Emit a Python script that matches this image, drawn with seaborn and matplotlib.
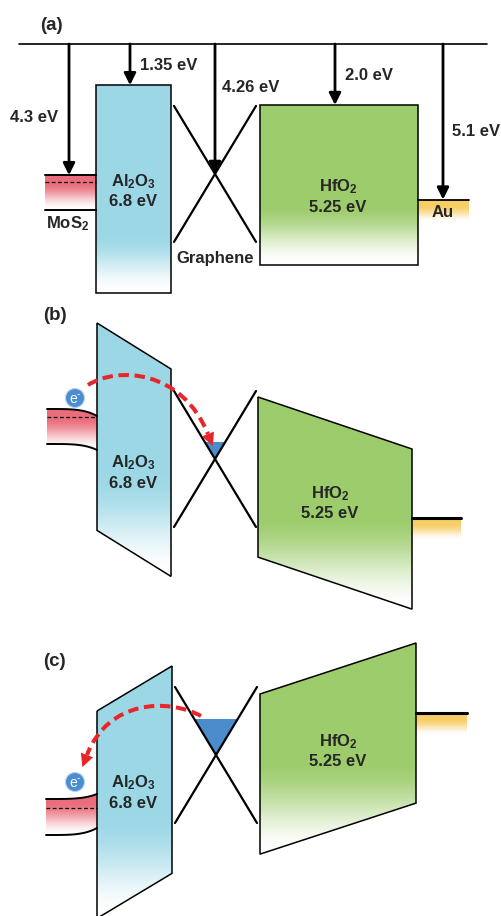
import numpy as np
import matplotlib
matplotlib.use("Agg")
import matplotlib.pyplot as plt
import seaborn as sns
import pandas as pd
from matplotlib.patches import Polygon, Circle, PathPatch
from matplotlib.path import Path

# ---- energy data (eV below vacuum level) ----
materials = ["MoS2", "Al2O3", "Graphene", "HfO2", "Au"]
offsets_ev = [4.3, 1.35, 4.26, 2.0, 5.1]          # electron affinity / work function
offset_labels = ["4.3 eV", "1.35 eV", "4.26 eV", "2.0 eV", "5.1 eV"]
oxide_names = [r"Al$_2$O$_3$", r"HfO$_2$"]
oxide_gaps_ev = [6.8, 5.25]
gap_labels = ["6.8 eV", "5.25 eV"]
material_labels = [r"MoS$_2$", "Graphene", "Au"]
panel_labels = ["(a)", "(b)", "(c)"]

# ---- style ----
sns.set_theme(style="white")
plt.rcParams["font.family"] = ["Liberation Sans", "DejaVu Sans"]
plt.rcParams["mathtext.fontset"] = "custom"
for k in ("rm", "it", "bf", "sf"):
    plt.rcParams["mathtext." + k] = "Liberation Sans:bold"

AL_C = (0.615, 0.847, 0.902)
HF_C = (0.612, 0.800, 0.420)
MO_C = (0.915, 0.430, 0.480)
AU_C = (0.970, 0.805, 0.400)
FERMI_C = "#4a8ccc"
RED = "#e8262a"

EV = 30.5        # drawing units per eV
VAC_Y = 44       # vacuum level in panel (a)
FS = 12

fig = plt.figure(figsize=(5.01, 9.16), dpi=100)
ax = fig.add_axes([0, 0, 1, 1])


def grad_fill(verts, color, fade_start, fade_end=1.0, z=1):
    verts = np.asarray(verts, float)
    x0, x1 = verts[:, 0].min(), verts[:, 0].max()
    y0, y1 = verts[:, 1].min(), verts[:, 1].max()
    t = np.linspace(0, 1, 300)
    w = np.clip((t - fade_start) / (fade_end - fade_start), 0, 1)
    w = w * w * (3 - 2 * w)
    rgb = (1 - w)[:, None] * np.array(color)[None, :] + w[:, None]
    im = ax.imshow(rgb[:, None, :], extent=(x0, x1, y1, y0), aspect="auto",
                   zorder=z, interpolation="bilinear")
    clip = Polygon(verts, closed=True, facecolor="none", edgecolor="none")
    ax.add_patch(clip)
    im.set_clip_path(clip)


def oxide(xl, xr, top_l, top_r, gap, color, fade, name, gap_lbl, lx, ly):
    h = gap * EV
    verts = [(xl, top_l), (xr, top_r), (xr, top_r + h), (xl, top_l + h)]
    grad_fill(verts, color, fade)
    ax.add_patch(Polygon(verts, closed=True, facecolor="none",
                         edgecolor="black", lw=1.1, zorder=3))
    ax.text(lx, ly, name, ha="center", va="center", fontsize=FS,
            fontweight="bold", zorder=5)
    ax.text(lx, ly + 20, gap_lbl, ha="center", va="center", fontsize=FS,
            fontweight="bold", zorder=5)


def graphene(cx, dirac_y, fermi_y=None):
    hw, hh = 41, 68
    df = pd.DataFrame({
        "x": [cx - hw, cx + hw, cx - hw, cx + hw],
        "y": [dirac_y - hh, dirac_y + hh, dirac_y + hh, dirac_y - hh],
        "branch": ["a", "a", "b", "b"],
    })
    sns.lineplot(data=df, x="x", y="y", units="branch", estimator=None,
                 color="black", lw=1.6, ax=ax, legend=False, zorder=4, sort=False)
    if fermi_y is not None:
        d = dirac_y - fermi_y
        half = hw * d / hh
        ax.add_patch(Polygon([(cx - half, fermi_y), (cx + half, fermi_y), (cx, dirac_y)],
                             closed=True, facecolor=FERMI_C, edgecolor="none", zorder=3))


def mos2(x0, x1, top, bot, bend_top, bend_bot, fermi):
    xs = np.linspace(x0, x1, 60)
    s = ((xs - x0) / (x1 - x0)) ** 4
    yt = top + bend_top * s
    yb = bot + bend_bot * s
    verts = np.vstack([np.column_stack([xs, yt]), np.column_stack([xs[::-1], yb[::-1]])])
    grad_fill(verts, MO_C, 0.2, 1.0)
    ax.plot(xs, yt, color="black", lw=1.4, zorder=4)
    ax.plot(xs, yb, color="black", lw=1.4, zorder=4)
    ax.plot([x0, x1], [fermi, fermi], color="black", lw=0.9, ls=(0, (3, 2)), zorder=4)


def gold(x0, x1, y, lw):
    grad_fill([(x0, y), (x1, y), (x1, y + 22), (x0, y + 22)], AU_C, 0.25, 1.0)
    ax.plot([x0, x1], [y, y], color="black", lw=lw, zorder=4)


def electron(x, y):
    ax.add_patch(Circle((x, y), 9.5, facecolor="#4b8ed0", edgecolor="#b8d3ee",
                        lw=0.8, zorder=6))
    ax.text(x - 2, y + 1, "e", color="white", fontsize=10,
            ha="center", va="center", zorder=7, fontweight="normal")
    ax.text(x + 3.5, y - 4, "-", color="white", fontsize=7,
            ha="center", va="center", zorder=7, fontweight="normal")


def red_arrow(p0, p1, p2, p3, tip_len=13, tip_w=13):
    path = Path([p0, p1, p2, p3], [Path.MOVETO, Path.CURVE4, Path.CURVE4, Path.CURVE4])
    ax.add_patch(PathPatch(path, facecolor="none", edgecolor=RED, lw=2.9,
                           ls=(0, (2.6, 1.4)), zorder=8, capstyle="butt"))
    d = np.array(p3, float) - np.array(p2, float)
    d /= np.linalg.norm(d)
    n = np.array([-d[1], d[0]])
    base = np.array(p3, float)
    tip = base + d * tip_len
    ax.add_patch(Polygon([tip, base + n * tip_w / 2, base - n * tip_w / 2],
                         closed=True, facecolor=RED, edgecolor="none", zorder=8))


# ================= panel (a): flat-band alignment =================
ey = {m: VAC_Y + EV * e for m, e in zip(materials, offsets_ev)}
ax.plot([19, 487], [VAC_Y, VAC_Y], color="black", lw=1.2, zorder=4)

mos2(45, 96, ey["MoS2"], ey["MoS2"] + 35, 0, 0, ey["MoS2"] + 7)
ax.text(68, 224, material_labels[0], ha="center", va="center", fontsize=FS,
        fontweight="bold")
oxide(96, 171, ey["Al2O3"], ey["Al2O3"], oxide_gaps_ev[0], AL_C, 0.72,
      oxide_names[0], gap_labels[0], 133, 182)
graphene(215, ey["Graphene"])
ax.text(215, 258, material_labels[1], ha="center", va="center", fontsize=FS,
        fontweight="bold")
oxide(260, 418, ey["HfO2"], ey["HfO2"], oxide_gaps_ev[1], HF_C, 0.62,
      oxide_names[1], gap_labels[1], 338, 187)
gold(418, 469, ey["Au"], 1.3)
ax.text(443, ey["Au"] + 13, material_labels[2], ha="center", va="center",
        fontsize=FS, fontweight="bold", zorder=5)

arrow_x = [69, 130, 215, 335, 443]
label_pos = [(58, 117, "right"), (140, 65, "left"), (222, 88, "left"),
             (345, 76, "left"), (452, 132, "left")]
for m, x, lbl, (tx, ty, ha) in zip(materials, arrow_x, offset_labels, label_pos):
    ax.annotate("", xy=(x, ey[m]), xytext=(x, VAC_Y),
                arrowprops=dict(arrowstyle="-|>,head_length=0.5,head_width=0.25",
                                lw=2.0, color="black", mutation_scale=14,
                                shrinkA=0, shrinkB=0), zorder=6)
    ax.text(tx, ty, lbl, ha=ha, va="center", fontsize=FS, fontweight="bold")

# ================= panel (b): programming =================
mos2(47, 97, 409, 444, 7, 6, 417)
oxide(97, 171, 323, 369, oxide_gaps_ev[0], AL_C, 0.6,
      oxide_names[0], gap_labels[0], 133, 463)
graphene(215, 459, 442)
oxide(258, 412, 397, 449, oxide_gaps_ev[1], HF_C, 0.55,
      oxide_names[1], gap_labels[1], 330, 494)
gold(412, 461, 518, 2.2)
electron(75, 398)
red_arrow((88, 385), (118, 366), (182, 370), (208, 434))

# ================= panel (c): erasing =================
mos2(46, 97, 799, 835, -5, -7, 808)
oxide(97, 172, 711, 666, oxide_gaps_ev[0], AL_C, 0.6,
      oxide_names[0], gap_labels[0], 133, 783)
graphene(216, 755, 719)
oxide(260, 416, 694, 643, oxide_gaps_ev[1], HF_C, 0.55,
      oxide_names[1], gap_labels[1], 338, 742)
gold(416, 467, 713, 2.2)
electron(75, 782)
red_arrow((201, 716), (168, 698), (108, 700), (87, 755))

for lbl, (x, y) in zip(panel_labels, [(40, 25), (43, 315), (43, 661)]):
    ax.text(x, y, lbl, ha="left", va="center", fontsize=13.5, fontweight="bold")

ax.set_xlim(0, 501)
ax.set_ylim(916, 0)
ax.set_axis_off()
fig.savefig("out.png", dpi=100, facecolor="white")
